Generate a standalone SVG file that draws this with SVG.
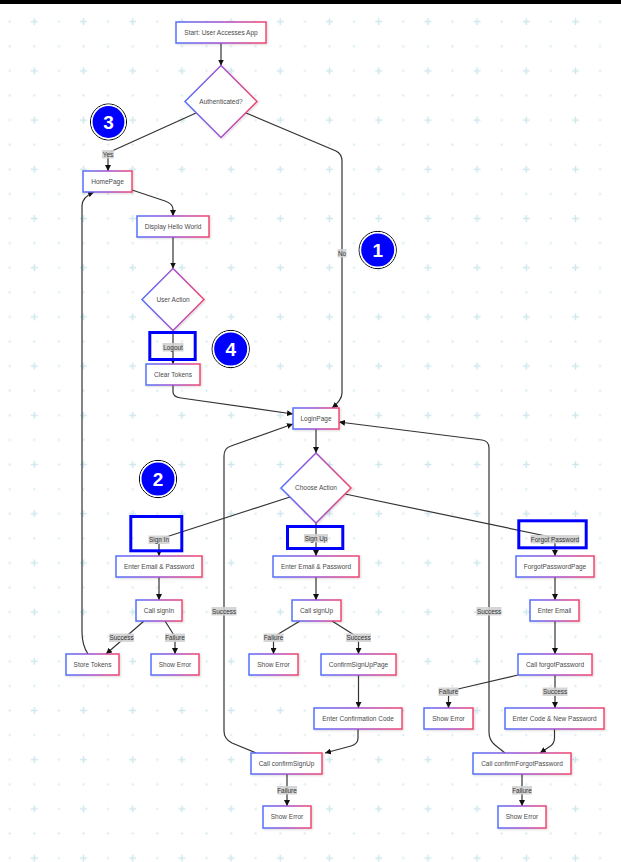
<svg xmlns="http://www.w3.org/2000/svg" width="621" height="862" viewBox="0 0 621 862">
<style>
.nd rect,.nd polygon{fill:#fff;stroke:url(#ng);stroke-width:1.5;filter:url(#sh)}
.nd text{font-family:"Liberation Sans",Arial,sans-serif;font-size:6.5px;fill:#4a4a4a;text-anchor:middle}
.ed path{fill:none;stroke:#333;stroke-width:1.2;marker-end:url(#ar)}
.lb rect{fill:#d2d2d2;opacity:.9}
.lb text{font-family:"Liberation Sans",Arial,sans-serif;font-size:6.4px;fill:#333;text-anchor:middle}
.hl{fill:none;stroke:#0000ff;stroke-width:3}
.bd circle.o{fill:#0000ff;stroke:#fff;stroke-width:1.6}
.bd circle.r{fill:none;stroke:#000;stroke-width:1}
.bd text{font-family:"Liberation Sans",Arial,sans-serif;font-weight:bold;font-size:19px;fill:#fff;text-anchor:middle}
</style>
<defs>
<linearGradient id="ng" x1="0" y1="0" x2="1" y2="0">
<stop offset="0" stop-color="#5470fb"/>
<stop offset="0.5" stop-color="#a14fd0"/>
<stop offset="1" stop-color="#f2456f"/>
</linearGradient>
<filter id="sh" x="-10%" y="-20%" width="130%" height="160%">
<feDropShadow dx="1" dy="1" stdDeviation="0.8" flood-color="#000" flood-opacity="0.15"/>
</filter>
<marker id="ar" viewBox="0 0 10 10" refX="10" refY="5" markerWidth="6" markerHeight="6" orient="auto" markerUnits="userSpaceOnUse">
<path d="M0,0 L10,5 L0,10 z" fill="#111"/>
</marker>
<pattern id="bg" x="-2.6" y="9.4" width="49.2" height="49.2" patternUnits="userSpaceOnUse">
<rect x="11.3" y="11.3" width="2" height="2" fill="#d3ebee"/>
<rect x="11.3" y="35.9" width="2" height="2" fill="#d3ebee"/>
<rect x="35.9" y="35.9" width="2" height="2" fill="#d3ebee"/>
<path d="M33.4,12.3 H40.4 M36.9,8.8 V15.8" stroke="#cfe8ec" stroke-width="1.5"/>
</pattern>
</defs>
<rect width="621" height="862" fill="#fff"/>
<rect width="621" height="862" fill="url(#bg)"/>
<rect width="621" height="4" fill="#000"/>

<g id="edges" class="ed">
<path d="M221,43 L221,65.5"/>
<path d="M196,113 L112,151 Q108,153 108,158 L108,171"/>
<path d="M246,113 L336,151 Q342,154 342,161 L342,393 Q342,400 332,408"/>
<path d="M132,190 L165,201 Q173,204 173,209 L173,216"/>
<path d="M173,237 L173,268.5"/>
<path d="M173,330.5 L173,364"/>
<path d="M173,385 L173,392 Q173,397 181,398 L293,414"/>
<path d="M316,429 L316,453"/>
<path d="M290,497 L166,537 Q159,539 159,544 L159,556"/>
<path d="M316,523 L316,556"/>
<path d="M345,494 L546,536 Q555,538 555,544 L555,556"/>
<path d="M159,577 L159,600"/>
<path d="M316,577 L316,600"/>
<path d="M555,577 L555,600"/>
<path d="M144,621 L106,654"/>
<path d="M165,621 L172,632 Q175,636 175,641 L175,654"/>
<path d="M300,621 L280,633 Q273.5,637 273.5,642 L273.5,654"/>
<path d="M332,621 L351,633 Q358.5,637 358.5,642 L358.5,654"/>
<path d="M555,621 L555,654"/>
<path d="M88,654 Q82,645 82,632 L82,206 Q82,197 94,192"/>
<path d="M358.5,675 L358.5,708"/>
<path d="M518,675 L458,689 Q448.5,691 448.5,697 L448.5,708"/>
<path d="M555,675 L555,708"/>
<path d="M358,729 L358,738 Q358,744 351,746 L325,753"/>
<path d="M554.5,729 L554.5,738 Q554.5,744 549,747 L540,753"/>
<path d="M287,774 L287,806"/>
<path d="M522,774 L522,806"/>
<path d="M256,753 L232,743 Q224,739 224,731 L224,456 Q224,448 231,446 L293,424"/>
<path d="M505,753 L495,745 Q489,740 489,732 L489,448 Q489,441 482,440 L339,422"/>
</g>

<g id="labels" class="lb">
<rect x="102" y="150" width="12" height="8.5"/><text x="108" y="156.5">Yes</text>
<rect x="337.5" y="249" width="9" height="8.5"/><text x="342" y="255.5">No</text>
<rect x="162.5" y="343" width="21" height="8.5"/><text x="173" y="349.5">Logout</text>
<rect x="148.5" y="535.5" width="21" height="8.5"/><text x="159" y="542">Sign In</text>
<rect x="304" y="534" width="24" height="8.5"/><text x="316" y="540.5">Sign Up</text>
<rect x="530.5" y="535" width="49" height="8.5"/><text x="555" y="541.5">Forgot Password</text>
<rect x="109" y="633.5" width="25" height="8.5"/><text x="121.5" y="640">Success</text>
<rect x="165" y="633.5" width="20" height="8.5"/><text x="175" y="640">Failure</text>
<rect x="263.5" y="633.5" width="20" height="8.5"/><text x="273.5" y="640">Failure</text>
<rect x="346" y="633.5" width="25" height="8.5"/><text x="358.5" y="640">Success</text>
<rect x="211.5" y="607" width="25" height="8.5"/><text x="224" y="613.5">Success</text>
<rect x="476.5" y="607" width="25" height="8.5"/><text x="489" y="613.5">Success</text>
<rect x="438.5" y="687.5" width="20" height="8.5"/><text x="448.5" y="694">Failure</text>
<rect x="542.5" y="687.5" width="25" height="8.5"/><text x="555" y="694">Success</text>
<rect x="277" y="786" width="20" height="8.5"/><text x="287" y="792.5">Failure</text>
<rect x="512" y="786" width="20" height="8.5"/><text x="522" y="792.5">Failure</text>
</g>

<g id="n_start" class="nd"><rect x="176" y="22" width="90" height="21"/><text x="221" y="34.8">Start: User Accesses App</text></g>
<g id="n_auth" class="nd"><polygon points="221,65.5 257,101.5 221,137.5 185,101.5"/><text x="221" y="103.8">Authenticated?</text></g>
<g id="n_home" class="nd"><rect x="83" y="171" width="49" height="21"/><text x="107.5" y="183.8">HomePage</text></g>
<g id="n_display" class="nd"><rect x="137" y="216" width="72" height="21"/><text x="173" y="228.8">Display Hello World</text></g>
<g id="n_useraction" class="nd"><polygon points="173,268.5 204,299.5 173,330.5 142,299.5"/><text x="173" y="301.8">User Action</text></g>
<g id="n_clear" class="nd"><rect x="146" y="364" width="54" height="21"/><text x="173" y="376.8">Clear Tokens</text></g>
<g id="n_login" class="nd"><rect x="293" y="408" width="46" height="21"/><text x="316" y="420.8">LoginPage</text></g>
<g id="n_choose" class="nd"><polygon points="316,453 351,488 316,523 281,488"/><text x="316" y="490.3">Choose Action</text></g>
<g id="n_email1" class="nd"><rect x="116" y="556" width="86" height="21"/><text x="159" y="568.8">Enter Email &amp; Password</text></g>
<g id="n_email2" class="nd"><rect x="273" y="556" width="86" height="21"/><text x="316" y="568.8">Enter Email &amp; Password</text></g>
<g id="n_fpp" class="nd"><rect x="516" y="556" width="78" height="21"/><text x="555" y="568.8">ForgotPasswordPage</text></g>
<g id="n_signin" class="nd"><rect x="136" y="600" width="46" height="21"/><text x="159" y="612.8">Call signIn</text></g>
<g id="n_signup" class="nd"><rect x="292" y="600" width="49" height="21"/><text x="316.5" y="612.8">Call signUp</text></g>
<g id="n_enteremail" class="nd"><rect x="530" y="600" width="49" height="21"/><text x="554.5" y="612.8">Enter Email</text></g>
<g id="n_store" class="nd"><rect x="66" y="654" width="53" height="21"/><text x="92.5" y="666.8">Store Tokens</text></g>
<g id="n_err1" class="nd"><rect x="151" y="654" width="48" height="21"/><text x="175" y="666.8">Show Error</text></g>
<g id="n_err2" class="nd"><rect x="249" y="654" width="49" height="21"/><text x="273.5" y="666.8">Show Error</text></g>
<g id="n_csp" class="nd"><rect x="321" y="654" width="75" height="21"/><text x="358.5" y="666.8">ConfirmSignUpPage</text></g>
<g id="n_cfp" class="nd"><rect x="518" y="654" width="74" height="21"/><text x="555" y="666.8">Call forgotPassword</text></g>
<g id="n_ecc" class="nd"><rect x="314" y="708" width="88" height="21"/><text x="358" y="720.8">Enter Confirmation Code</text></g>
<g id="n_err3" class="nd"><rect x="424" y="708" width="49" height="21"/><text x="448.5" y="720.8">Show Error</text></g>
<g id="n_ecnp" class="nd"><rect x="505" y="708" width="99" height="21"/><text x="554.5" y="720.8">Enter Code &amp; New Password</text></g>
<g id="n_ccsu" class="nd"><rect x="251" y="753" width="71" height="21"/><text x="286.5" y="765.8">Call confirmSignUp</text></g>
<g id="n_ccfp" class="nd"><rect x="473" y="753" width="98" height="21"/><text x="522" y="765.8">Call confirmForgotPassword</text></g>
<g id="n_err4" class="nd"><rect x="263" y="806" width="48" height="22"/><text x="287" y="819.3">Show Error</text></g>
<g id="n_err5" class="nd"><rect x="498" y="806" width="48" height="22"/><text x="522" y="819.3">Show Error</text></g>

<g id="highlights">
<rect class="hl" x="149.8" y="332.5" width="45.4" height="27"/>
<rect class="hl" x="130.8" y="516.5" width="51" height="34.3"/>
<rect class="hl" x="287.5" y="526.5" width="55.3" height="22"/>
<rect class="hl" x="518.8" y="520.8" width="67.4" height="27"/>
</g>

<g id="b1" class="bd"><circle class="r" cx="377.7" cy="250" r="18.6"/><circle class="o" cx="377.7" cy="250" r="17.3"/><text x="377.7" y="256.8">1</text></g>
<g id="b2" class="bd"><circle class="r" cx="158" cy="479" r="18.6"/><circle class="o" cx="158" cy="479" r="17.3"/><text x="158" y="485.8">2</text></g>
<g id="b3" class="bd"><circle class="r" cx="108.5" cy="122" r="18"/><circle class="o" cx="108.5" cy="122" r="16.7"/><text x="108.5" y="128.8">3</text></g>
<g id="b4" class="bd"><circle class="r" cx="230.7" cy="349" r="18.6"/><circle class="o" cx="230.7" cy="349" r="17.3"/><text x="230.7" y="355.8">4</text></g>
</svg>
